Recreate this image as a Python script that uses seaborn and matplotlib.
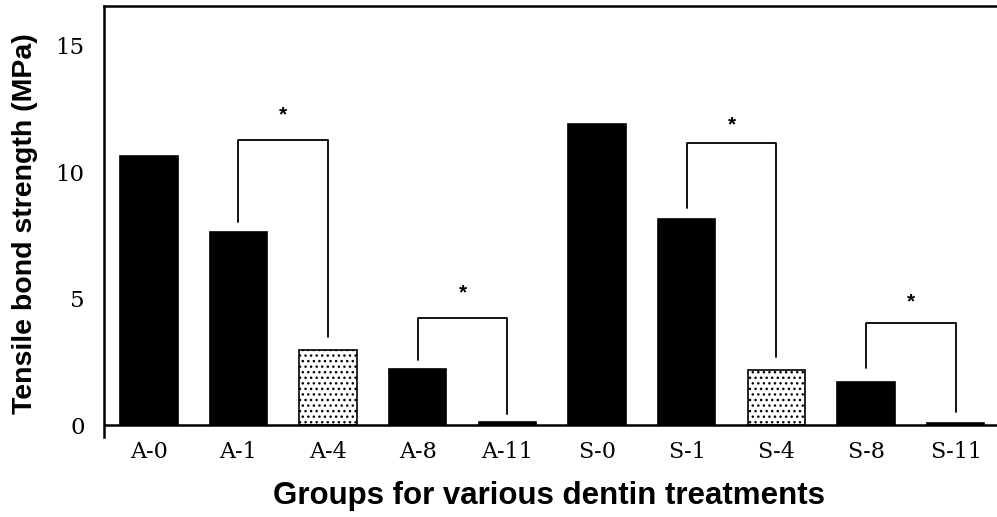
import matplotlib
matplotlib.use("Agg")
import matplotlib.pyplot as plt
import seaborn as sns
import pandas as pd

# -------------------------------------------------
# Data
# -------------------------------------------------
groups = ["A-0", "A-1", "A-4", "A-8", "A-11",
          "S-0", "S-1", "S-4", "S-8", "S-11"]
strength = [10.65, 7.64, 2.97, 2.22, 0.12,
            11.91, 8.15, 2.18, 1.70, 0.08]
stippled = ["A-4", "S-4"]

# significance brackets: (left group, right group, top, left leg end, right leg end, star y)
brackets = [
    ("A-1", "A-4", 11.28, 8.03, 3.48, 12.27),
    ("A-8", "A-11", 4.23, 2.57, 0.44, 5.22),
    ("S-1", "S-4", 11.16, 8.59, 2.69, 11.87),
    ("S-8", "S-11", 4.04, 2.26, 0.51, 4.87),
]

yticks = [0, 5, 10, 15]

df = pd.DataFrame({"group": groups, "strength": strength})

sns.set_style("white")
plt.rcParams["text.color"] = "black"
plt.rcParams["xtick.color"] = "black"
plt.rcParams["ytick.color"] = "black"
plt.rcParams["axes.labelcolor"] = "black"
plt.rcParams["hatch.linewidth"] = 1.0
serif = ["DejaVu Serif"]
sans = ["Liberation Sans", "DejaVu Sans"]

fig = plt.figure(figsize=(9.97, 5.17), dpi=100)
ax = fig.add_axes([104 / 997, 1 - 437 / 517, (997 - 104) / 997, (437 - 6) / 517])

sns.barplot(data=df, x="group", y="strength", color="black", saturation=1,
            width=0.64, ax=ax, edgecolor="black", linewidth=1.2)

for patch, g in zip(ax.patches, groups):
    if g in stippled:
        patch.set_facecolor("white")
        patch.set_hatch("...")

pos = {g: i for i, g in enumerate(groups)}
for left, right, top, lend, rend, star in brackets:
    xl, xr = pos[left], pos[right]
    ax.plot([xl, xl, xr, xr], [lend, top, top, rend], color="black", lw=1.3)
    ax.text((xl + xr) / 2, star, "*", ha="center", va="center",
            fontsize=15, fontweight="bold", family=sans)

ax.axhline(0, color="black", lw=1.8, zorder=5)

ax.set_xlim(-0.5, 9.46)
ax.set_ylim(-0.47, 16.58)
ax.set_yticks(yticks)
ax.set_yticklabels([str(t) for t in yticks], family=serif, fontsize=16.5)
ax.set_xticks(range(len(groups)))
ax.set_xticklabels(groups, family=serif, fontsize=16)
ax.tick_params(axis="y", direction="inout", length=12, width=1.3, pad=8)
ax.tick_params(axis="x", length=0, pad=3)

for side in ["left", "top"]:
    ax.spines[side].set_color("black")
    ax.spines[side].set_linewidth(1.8)
ax.spines["right"].set_visible(False)
ax.spines["bottom"].set_visible(False)

ax.set_xlabel("")
ax.set_ylabel("")
fig.text(549 / 997, 1 - 496 / 517, "Groups for various dentin treatments",
         ha="center", va="center", fontsize=22.5, fontweight="bold", family=sans)
fig.text(25 / 997, 1 - 224 / 517, "Tensile bond strength (MPa)",
         ha="center", va="center", rotation=90, fontsize=20.5, fontweight="bold", family=sans)

fig.savefig("out.png", dpi=100)
